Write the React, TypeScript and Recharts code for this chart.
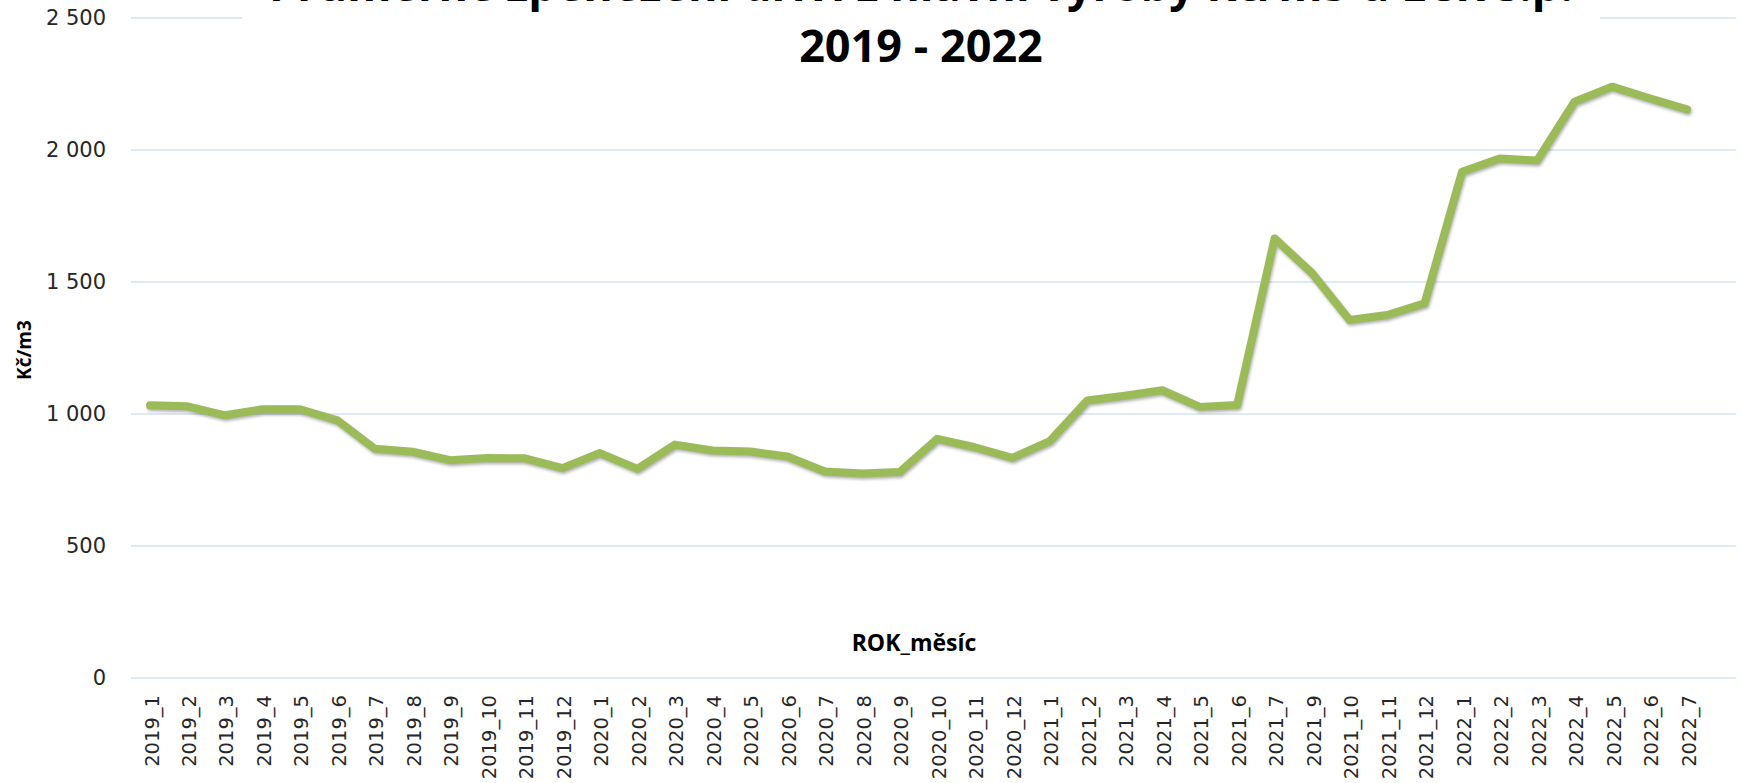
import { CartesianGrid, Line, LineChart, XAxis, YAxis } from "recharts";

const months = [
  "2019_1", "2019_2", "2019_3", "2019_4", "2019_5", "2019_6", "2019_7", "2019_8", "2019_9", "2019_10", "2019_11", "2019_12",
  "2020_1", "2020_2", "2020_3", "2020_4", "2020_5", "2020_6", "2020_7", "2020_8", "2020_9", "2020_10", "2020_11", "2020_12",
  "2021_1", "2021_2", "2021_3", "2021_4", "2021_5", "2021_6", "2021_7", "2021_9", "2021_10", "2021_11", "2021_12",
  "2022_1", "2022_2", "2022_3", "2022_4", "2022_5", "2022_6", "2022_7",
];

const prices = [
  1033, 1029, 995, 1018, 1018, 976, 868, 857, 825, 833, 832, 795,
  852, 792, 884, 862, 858, 839, 782, 775, 780, 906, 874, 834,
  897, 1051, 1069, 1090, 1027, 1034, 1665, 1533, 1356, 1375, 1419,
  1918, 1968, 1960, 2183, 2240, 2196, 2154,
];

const yTicks = [0, 500, 1000, 1500, 2000, 2500];

const titleLines = ["Průměrné zpeněžení dříví z hlavní výroby Kč/m3 u LČR s.p.", "2019 - 2022"];

const data = months.map((month, i) => ({ month, price: prices[i] }));

const fmt = (v: number) => v.toLocaleString("cs-CZ").replace(/\s/g, " ");

function XTick({ x, y, payload }: any) {
  return (
    <text
      transform={`translate(${x + 2},${y + 9}) rotate(-90)`}
      textAnchor="end"
      dominantBaseline="central"
      fontFamily="DejaVu Sans"
      fontSize={19.5}
      fill="#262626"
    >
      {payload.value}
    </text>
  );
}

function YTick({ y, payload }: any) {
  return (
    <text x={106} y={y} textAnchor="end" dominantBaseline="central" fontFamily="DejaVu Sans" fontSize={21} fill="#262626">
      {fmt(payload.value)}
    </text>
  );
}

export default function App() {
  return (
    <div style={{ position: "absolute", left: 0, top: 0, width: 1742, height: 783, background: "#fff", overflow: "hidden" }}>
      <style>{`.recharts-line-curve { filter: drop-shadow(1px 2px 1.5px rgba(0,0,0,0.3)); }`}</style>
      <LineChart width={1742} height={783} data={data} margin={{ top: 18, right: 6, bottom: 0, left: 0 }}>
        <CartesianGrid vertical={false} stroke="#D6E2F3" strokeWidth={1.5} />
        <XAxis
          dataKey="month"
          interval={0}
          height={105}
          padding={{ left: 19, right: 49 }}
          tick={<XTick />}
          axisLine={false}
          tickLine={false}
        />
        <YAxis
          width={131}
          domain={[0, 2500]}
          ticks={yTicks}
          tick={<YTick />}
          axisLine={false}
          tickLine={false}
          tickSize={0}
        />
        <Line
          type="linear"
          dataKey="price"
          stroke="#9BBB59"
          strokeWidth={8}
          strokeLinejoin="round"
          strokeLinecap="round"
          dot={false}
          activeDot={false}
          isAnimationActive={false}
        />
      </LineChart>
      <svg width={1742} height={783} style={{ position: "absolute", left: 0, top: 0, pointerEvents: "none" }}>
        <rect x={242} y={0} width={1358} height={74} fill="#fff" />
        <text x={921} y={1} textAnchor="middle" fontFamily="Open Sans" fontWeight={700} fontSize={45} fill="#000">
          {titleLines[0]}
        </text>
        <text x={921} y={62} textAnchor="middle" fontFamily="Open Sans" fontWeight={700} fontSize={45} fill="#000">
          {titleLines[1]}
        </text>
        <text
          transform="translate(24,350) rotate(-90)"
          textAnchor="middle"
          dominantBaseline="central"
          fontFamily="Open Sans"
          fontWeight={700}
          fontSize={19}
          fill="#000"
        >
          Kč/m3
        </text>
        <text x={914} y={651} textAnchor="middle" fontFamily="Open Sans" fontWeight={700} fontSize={23} fill="#000">
          ROK_měsíc
        </text>
      </svg>
    </div>
  );
}
